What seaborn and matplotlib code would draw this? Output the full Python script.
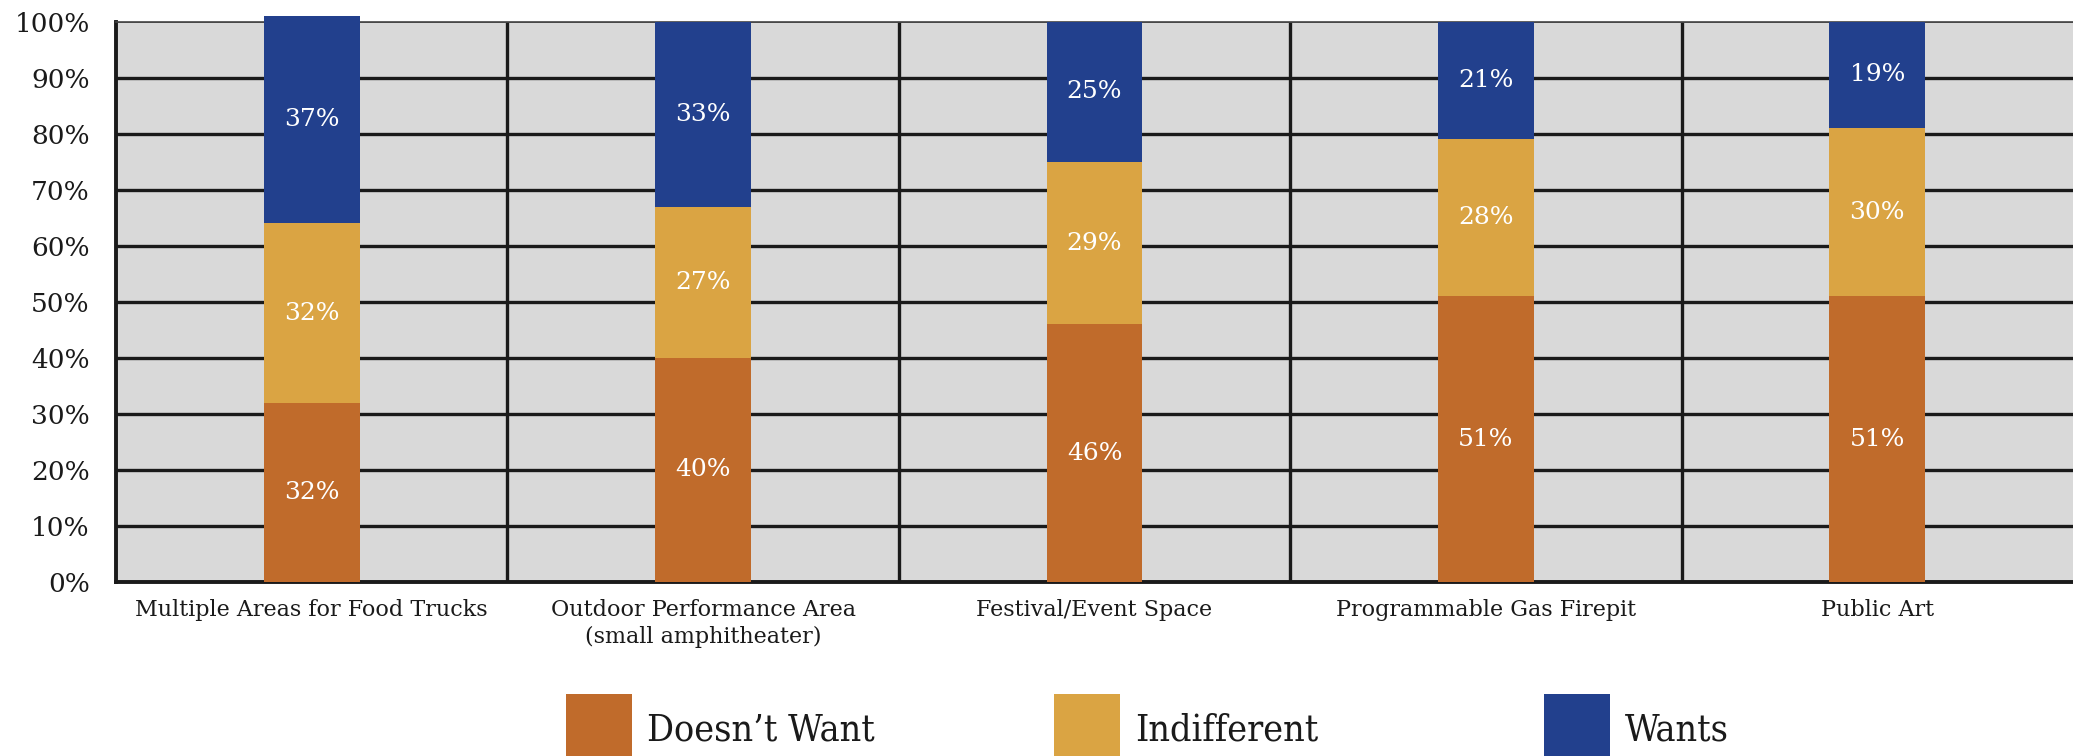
import matplotlib
matplotlib.use("Agg")
import matplotlib.pyplot as plt
import seaborn as sns
import numpy as np
from matplotlib.patches import Patch
from matplotlib.font_manager import FontProperties

# ---------------- data ----------------
categories = [
    "Multiple Areas for Food Trucks",
    "Outdoor Performance Area\n(small amphitheater)",
    "Festival/Event Space",
    "Programmable Gas Firepit",
    "Public Art",
]
doesnt_want = [32, 40, 46, 51, 51]
indifferent = [32, 27, 29, 28, 30]
wants = [37, 33, 25, 21, 19]
series_names = ["Doesn\u2019t Want", "Indifferent", "Wants"]
series_colors = ["#C06B2B", "#DAA443", "#22408D"]
y_ticks = [0, 10, 20, 30, 40, 50, 60, 70, 80, 90, 100]
y_tick_labels = [f"{t}%" for t in y_ticks]

# ---------------- style ----------------
sns.set_theme(style="white")
plt.rcParams["font.family"] = ["DejaVu Serif", "DejaVu Sans"]

fig = plt.figure(figsize=(20.73, 7.56), dpi=100)
ax = fig.add_axes([0.056, 0.2302, 0.944, 0.741])
ax.set_facecolor("#D9D9D9")
ax.set_axisbelow(True)

series_values = [doesnt_want, indifferent, wants]
bottom = np.zeros(len(categories))
for name, vals, col in zip(series_names, series_values, series_colors):
    vals = np.array(vals, dtype=float)
    sns.barplot(x=categories, y=vals, color=col, saturation=1, width=0.245,
                bottom=bottom, ax=ax, linewidth=0, clip_on=False, zorder=3)
    for i, (v, b) in enumerate(zip(vals, bottom)):
        ax.text(i, b + v / 2, f"{int(v)}%", ha="center", va="center",
                color="white", fontsize=18, zorder=5)
    bottom = bottom + vals

ax.set_xlim(-0.5, len(categories) - 0.5)
ax.set_ylim(0, 100)
ax.set_yticks(y_ticks, y_tick_labels)
ax.set_xlabel("")
ax.set_ylabel("")
for lab in ax.get_xticklabels():
    lab.set_linespacing(1.3)
ax.tick_params(axis="y", length=0, pad=19, labelsize=19, labelcolor="#1a1a1a")
ax.tick_params(axis="x", length=0, pad=12, labelsize=16, labelcolor="#1a1a1a")

# grid
ax.yaxis.grid(True, color="#1a1a1a", linewidth=2.4)
gls = ax.yaxis.get_gridlines()
gls[-1].set_linewidth(1.2)
gls[-1].set_color("#444444")
ax.set_xticks(np.arange(0.5, len(categories) - 1, 1), minor=True)
ax.xaxis.grid(True, which="minor", color="#1a1a1a", linewidth=2.4)
ax.tick_params(which="minor", length=0)

for s in ["left", "bottom"]:
    ax.spines[s].set_visible(True)
    ax.spines[s].set_color("#1a1a1a")
    ax.spines[s].set_linewidth(2.8)
ax.spines["top"].set_color("#444444")
ax.spines["top"].set_linewidth(1.2)
ax.spines["right"].set_visible(False)

# legend: three separate entries
leg_font = FontProperties(family="DejaVu Serif", stretch="condensed", size=27)
leg_x = [0.273, 0.5085, 0.745]
for name, col, lx in zip(series_names, series_colors, leg_x):
    fig.legend(handles=[Patch(facecolor=col, edgecolor="none", label=name)],
               loc="center left", bbox_to_anchor=(lx, 0.035), frameon=False,
               borderpad=0, borderaxespad=0, handlelength=1.75,
               handleheight=2.5, handletextpad=0.4, prop=leg_font,
               labelcolor="#1a1a1a")

fig.savefig("out.png", dpi=100, facecolor="white")
